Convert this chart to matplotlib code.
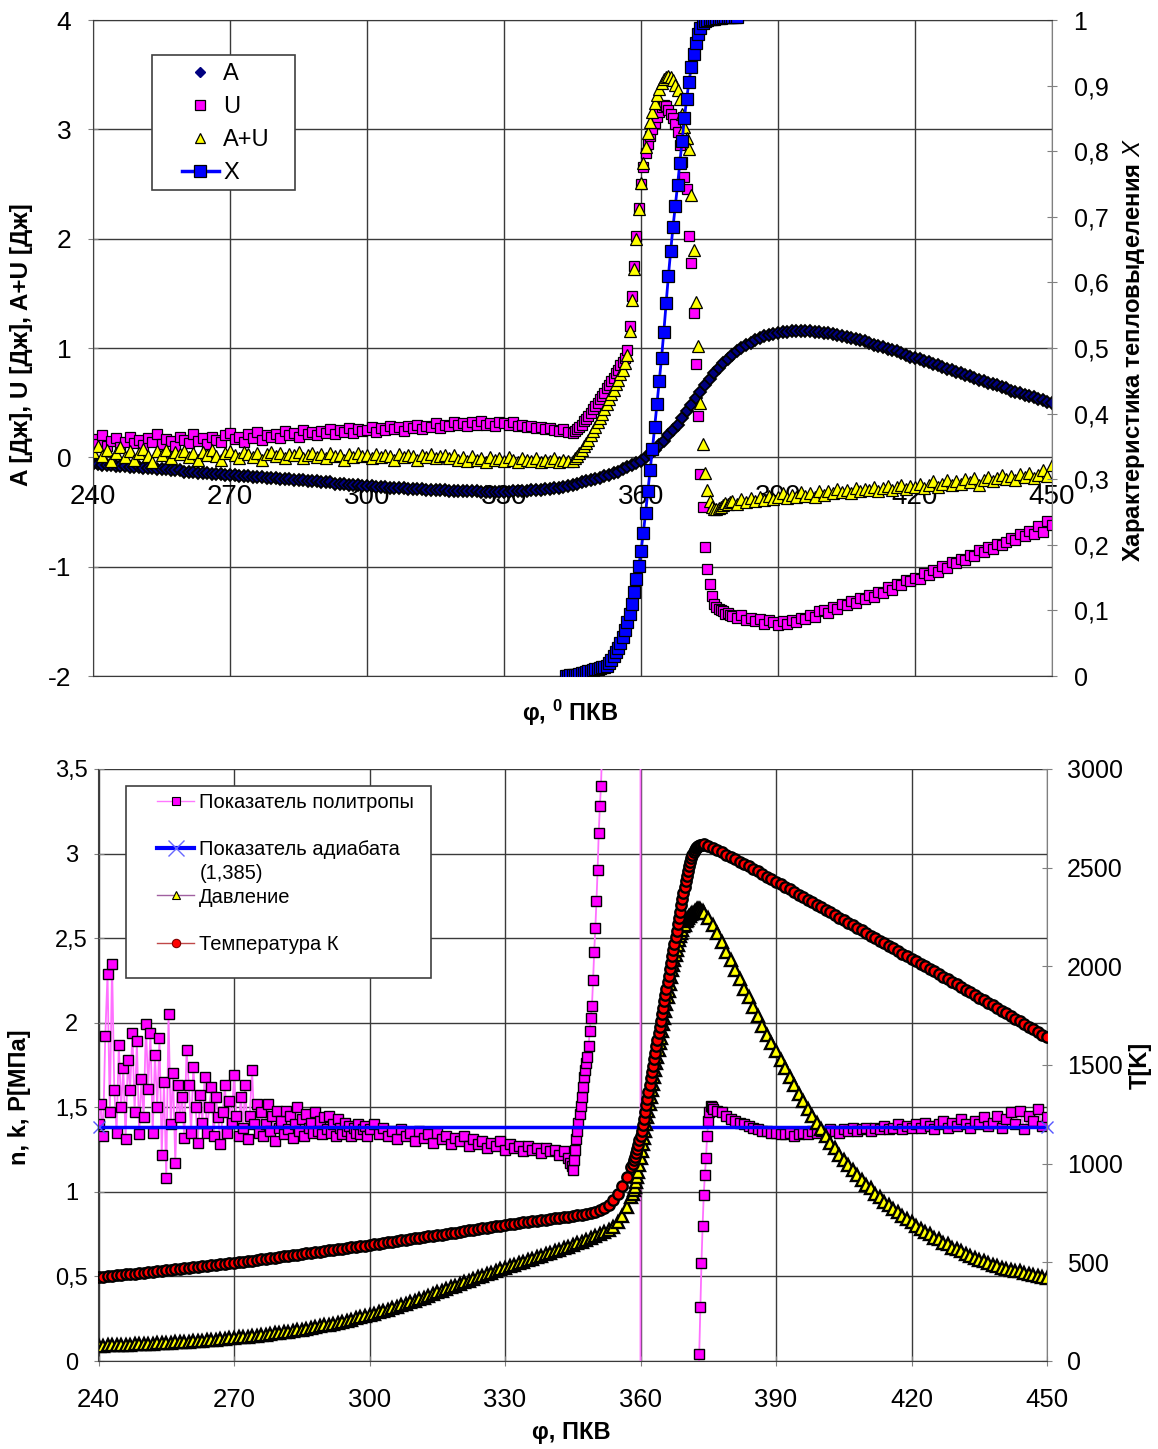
import numpy as np
import matplotlib
matplotlib.use("Agg")
import matplotlib.pyplot as plt
from matplotlib.lines import Line2D
from matplotlib.patches import Rectangle
from matplotlib.ticker import FuncFormatter

plt.rcParams['font.family'] = ['Liberation Sans', 'DejaVu Sans']
plt.rcParams['axes.unicode_minus'] = False
plt.rcParams['mathtext.fontset'] = 'custom'
plt.rcParams['mathtext.rm'] = 'Liberation Sans'
plt.rcParams['mathtext.it'] = 'Liberation Sans:italic'
plt.rcParams['mathtext.bf'] = 'Liberation Sans:bold'

# ------------------------------------------------------------------
# Upper panel: work A, internal energy U, their sum, heat release X
# ------------------------------------------------------------------
phi_a = np.arange(240, 451, 1.0)
work_a = [
    -0.06, -0.06, -0.07, -0.07, -0.07, -0.08, -0.08, -0.08, -0.09, -0.09,
    -0.09, -0.10, -0.10, -0.10, -0.11, -0.11, -0.11, -0.12, -0.12, -0.12,
    -0.13, -0.13, -0.13, -0.14, -0.14, -0.14, -0.15, -0.15, -0.15, -0.16,
    -0.16, -0.16, -0.17, -0.17, -0.17, -0.18, -0.18, -0.18, -0.19, -0.19,
    -0.19, -0.20, -0.20, -0.20, -0.21, -0.21, -0.21, -0.22, -0.22, -0.22,
    -0.23, -0.23, -0.23, -0.24, -0.24, -0.24, -0.25, -0.25, -0.25, -0.26,
    -0.26, -0.26, -0.27, -0.27, -0.27, -0.28, -0.28, -0.28, -0.28, -0.29,
    -0.29, -0.29, -0.29, -0.30, -0.30, -0.30, -0.30, -0.30, -0.31, -0.31,
    -0.31, -0.31, -0.31, -0.31, -0.31, -0.32, -0.32, -0.32, -0.32, -0.32,
    -0.32, -0.32, -0.31, -0.31, -0.31, -0.31, -0.30, -0.30, -0.30, -0.29,
    -0.29, -0.28, -0.28, -0.27, -0.26, -0.25, -0.24, -0.23, -0.22, -0.21,
    -0.20, -0.19, -0.17, -0.16, -0.14, -0.13, -0.11, -0.09, -0.07, -0.05,
    -0.03, 0.00, 0.03, 0.07, 0.11, 0.15, 0.20, 0.25, 0.30, 0.36,
    0.42, 0.48, 0.54, 0.60, 0.66, 0.72, 0.77, 0.82, 0.86, 0.90,
    0.94, 0.97, 1.00, 1.03, 1.05, 1.07, 1.09, 1.11, 1.12, 1.13,
    1.14, 1.15, 1.15, 1.16, 1.16, 1.16, 1.16, 1.16, 1.15, 1.15,
    1.14, 1.14, 1.13, 1.12, 1.11, 1.10, 1.09, 1.08, 1.07, 1.06,
    1.05, 1.03, 1.02, 1.01, 0.99, 0.98, 0.97, 0.95, 0.94, 0.92,
    0.91, 0.90, 0.88, 0.87, 0.85, 0.84, 0.83, 0.81, 0.80, 0.78,
    0.77, 0.75, 0.74, 0.73, 0.71, 0.70, 0.68, 0.67, 0.66, 0.64,
    0.63, 0.61, 0.60, 0.59, 0.57, 0.56, 0.55, 0.53, 0.52, 0.51,
    0.50,
]

phi_u = np.concatenate([np.arange(240, 345, 1.0),
                        np.arange(345, 380, 0.5),
                        np.arange(380, 451, 1.0)])
energy_u = [
    # 240 .. 344
    0.17, 0.12, 0.20, 0.10, 0.15, 0.18, 0.09, 0.14, 0.19, 0.13,
    0.16, 0.11, 0.18, 0.14, 0.21, 0.12, 0.17, 0.15, 0.10, 0.19,
    0.16, 0.13, 0.21, 0.15, 0.18, 0.12, 0.19, 0.16, 0.14, 0.20,
    0.22, 0.17, 0.19, 0.14, 0.21, 0.18, 0.23, 0.16, 0.20, 0.19,
    0.21, 0.18, 0.24, 0.20, 0.22, 0.19, 0.25, 0.21, 0.23, 0.20,
    0.24, 0.22, 0.26, 0.21, 0.25, 0.23, 0.27, 0.22, 0.26, 0.24,
    0.25, 0.28, 0.23, 0.27, 0.25, 0.29, 0.26, 0.28, 0.24, 0.29,
    0.27, 0.30, 0.26, 0.29, 0.28, 0.31, 0.27, 0.30, 0.29, 0.32,
    0.30, 0.31, 0.29, 0.32, 0.30, 0.33, 0.30, 0.31, 0.29, 0.32,
    0.31, 0.30, 0.32, 0.29, 0.30, 0.28, 0.29, 0.27, 0.28, 0.26,
    0.27, 0.25, 0.24, 0.26, 0.23,
    # 345 .. 379.5
    0.22, 0.24, 0.26, 0.28, 0.30, 0.33, 0.35, 0.38, 0.41, 0.44,
    0.47, 0.50, 0.53, 0.56, 0.59, 0.63, 0.66, 0.70, 0.73, 0.77,
    0.80, 0.84, 0.87, 0.91, 0.98, 1.20, 1.48, 1.75, 2.02, 2.28,
    2.50, 2.66, 2.78, 2.87, 2.94, 3.00, 3.06, 3.11, 3.16, 3.20,
    3.22, 3.21, 3.18, 3.14, 3.10, 3.05, 2.98, 2.86, 2.70, 2.56,
    2.45, 2.02, 1.78, 1.32, 0.85, 0.38, -0.15, -0.45, -0.82, -1.02,
    -1.16, -1.27, -1.34, -1.37, -1.39, -1.40, -1.41, -1.43, -1.42, -1.44,
    # 380 .. 450
    -1.45, -1.47, -1.44, -1.49, -1.47, -1.50, -1.48, -1.52, -1.49, -1.51,
    -1.53, -1.50, -1.52, -1.49, -1.51, -1.47, -1.48, -1.44, -1.46, -1.41,
    -1.40, -1.42, -1.37, -1.39, -1.34, -1.35, -1.31, -1.33, -1.29, -1.30,
    -1.26, -1.28, -1.23, -1.24, -1.19, -1.21, -1.16, -1.17, -1.12, -1.13,
    -1.10, -1.11, -1.06, -1.08, -1.03, -1.05, -0.99, -1.01, -0.96, -0.97,
    -0.93, -0.94, -0.89, -0.90, -0.85, -0.87, -0.82, -0.84, -0.79, -0.80,
    -0.77, -0.74, -0.76, -0.70, -0.72, -0.67, -0.70, -0.63, -0.68, -0.58,
    -0.62,
]
sum_au = [
    # 240 .. 344
    0.05, 0.10, 0.01, 0.07, -0.03, 0.04, 0.09, 0.00, 0.06, -0.02,
    0.04, 0.08, 0.01, -0.04, 0.06, 0.02, 0.07, -0.01, 0.05, 0.03,
    0.06, 0.00, 0.04, -0.02, 0.05, 0.02, 0.07, 0.01, -0.02, 0.04,
    0.06, 0.02, -0.01, 0.05, 0.03, 0.00, 0.04, -0.02, 0.03, 0.05,
    0.01, 0.04, -0.01, 0.03, 0.02, 0.05, -0.01, 0.02, 0.04, 0.00,
    0.03, -0.01, 0.04, 0.01, 0.02, -0.02, 0.03, 0.00, 0.04, 0.01,
    0.02, -0.01, 0.03, 0.00, 0.02, 0.01, -0.02, 0.03, 0.00, 0.02,
    0.01, -0.02, 0.02, 0.00, 0.03, -0.01, 0.01, 0.02, -0.01, 0.02,
    -0.02, 0.00, -0.03, 0.01, -0.02, -0.01, -0.04, 0.00, -0.02, -0.01,
    -0.03, 0.00, -0.02, -0.04, -0.01, -0.02, -0.03, -0.01, -0.04, -0.02,
    -0.03, -0.01, -0.04, -0.02, -0.03,
    # 345 .. 379.5
    -0.03, -0.01, 0.01, 0.04, 0.07, 0.10, 0.13, 0.16, 0.20, 0.24,
    0.28, 0.32, 0.36, 0.40, 0.44, 0.49, 0.53, 0.58, 0.62, 0.67,
    0.71, 0.76, 0.80, 0.86, 0.94, 1.16, 1.44, 1.72, 2.00, 2.27,
    2.51, 2.69, 2.84, 2.97, 3.07, 3.16, 3.24, 3.31, 3.37, 3.42,
    3.46, 3.48, 3.49, 3.48, 3.45, 3.41, 3.36, 3.28, 3.14, 3.02,
    2.92, 2.82, 2.40, 1.90, 1.42, 1.02, 0.50, 0.12, -0.14, -0.30,
    -0.40, -0.45, -0.47, -0.47, -0.46, -0.45, -0.44, -0.42, -0.43, -0.41,
    # 380 .. 450
    -0.40, -0.43, -0.38, -0.41, -0.37, -0.40, -0.36, -0.39, -0.35, -0.38,
    -0.36, -0.33, -0.37, -0.34, -0.36, -0.32, -0.35, -0.33, -0.36, -0.31,
    -0.34, -0.31, -0.33, -0.29, -0.32, -0.30, -0.33, -0.28, -0.31, -0.29,
    -0.30, -0.27, -0.31, -0.28, -0.26, -0.30, -0.27, -0.25, -0.29, -0.26,
    -0.27, -0.24, -0.28, -0.25, -0.22, -0.27, -0.24, -0.21, -0.25, -0.22,
    -0.24, -0.20, -0.23, -0.19, -0.25, -0.21, -0.18, -0.22, -0.19, -0.16,
    -0.20, -0.17, -0.21, -0.15, -0.18, -0.14, -0.19, -0.16, -0.12, -0.17,
    -0.07,
]

phi_x = np.arange(343.5, 381.01, 0.5)
heat_x = [
    0.000, 0.000, 0.001, 0.001, 0.002, 0.002, 0.003, 0.004, 0.005, 0.006,
    0.007, 0.008, 0.009, 0.010, 0.011, 0.012, 0.013, 0.014, 0.016, 0.020,
    0.025, 0.030, 0.036, 0.043, 0.051, 0.060, 0.070, 0.082, 0.095, 0.110,
    0.128, 0.148, 0.168, 0.190, 0.218, 0.248, 0.282, 0.314, 0.346, 0.380,
    0.415, 0.450, 0.485, 0.525, 0.568, 0.610, 0.648, 0.684, 0.716, 0.748,
    0.782, 0.816, 0.850, 0.880, 0.905, 0.928, 0.948, 0.965, 0.978, 0.988,
    0.995, 0.999, 1.000, 1.001, 1.002, 1.002, 1.003, 1.003, 1.003, 1.004,
    1.004, 1.004, 1.005, 1.005, 1.005, 1.005,
]

# ------------------------------------------------------------------
# Lower panel: polytropic index n, adiabatic index k, pressure, temperature
# ------------------------------------------------------------------
phi_n = np.concatenate([np.arange(240, 300, 0.5),
                        np.arange(300, 345, 1.0),
                        np.arange(344.5, 352.01, 0.25),
                        [353.0, 355.0, 358.0, 359.95, 360.05, 364.0, 368.0, 371.0, 372.5],
                        np.arange(372.75, 376.01, 0.25),
                        np.arange(377, 451, 1.0)])
poly_n = [
    # 240 .. 299.5
    1.40, 1.52, 1.33, 1.92, 2.29, 1.47, 2.35, 1.60, 1.35, 1.87,
    1.50, 1.73, 1.31, 1.78, 1.60, 1.94, 1.47, 1.89, 1.34, 1.67,
    1.44, 1.99, 1.61, 1.94, 1.35, 1.81, 1.50, 1.91, 1.22, 1.65,
    1.08, 2.05, 1.40, 1.70, 1.17, 1.63, 1.44, 1.56, 1.32, 1.84,
    1.63, 1.35, 1.74, 1.50, 1.29, 1.57, 1.41, 1.68, 1.35, 1.50,
    1.62, 1.33, 1.56, 1.44, 1.28, 1.47, 1.63, 1.35, 1.54, 1.41,
    1.69, 1.45, 1.33, 1.56, 1.38, 1.63, 1.31, 1.45, 1.72, 1.40,
    1.52, 1.35, 1.47, 1.33, 1.40, 1.52, 1.36, 1.45, 1.30, 1.48,
    1.38, 1.42, 1.34, 1.48, 1.37, 1.45, 1.32, 1.40, 1.50, 1.36,
    1.43, 1.33, 1.46, 1.38, 1.41, 1.35, 1.47, 1.36, 1.42, 1.34,
    1.44, 1.37, 1.45, 1.35, 1.40, 1.33, 1.43, 1.38, 1.34, 1.41,
    1.36, 1.39, 1.33, 1.38, 1.35, 1.40, 1.34, 1.37, 1.39, 1.33,
    # 300 .. 344
    1.37, 1.40, 1.34, 1.38, 1.33, 1.36, 1.31, 1.37, 1.33, 1.35,
    1.30, 1.36, 1.32, 1.34, 1.29, 1.35, 1.31, 1.33, 1.28, 1.32,
    1.30, 1.33, 1.27, 1.31, 1.28, 1.30, 1.26, 1.29, 1.27, 1.30,
    1.25, 1.28, 1.26, 1.27, 1.24, 1.27, 1.25, 1.26, 1.23, 1.26,
    1.24, 1.25, 1.22, 1.24, 1.20,
    # 344.5 .. 352
    1.17, 1.15, 1.13, 1.19, 1.25, 1.31, 1.36, 1.41, 1.46, 1.51,
    1.56, 1.62, 1.68, 1.72, 1.76, 1.80, 1.86, 1.95, 2.03, 2.10,
    2.25, 2.42, 2.56, 2.72, 2.90, 3.12, 3.28, 3.40, 3.62, 3.90,
    4.30,
    # through the singularity at TDC
    5.5, 9.0, 30.0, 600.0, -600.0, -12.0, -3.0, -1.0, -0.35,
    # 372.75 .. 376
    -0.12, 0.04, 0.32, 0.58, 0.80, 0.98, 1.10, 1.20, 1.33, 1.42,
    1.47, 1.51, 1.50, 1.49,
    # 377 .. 450
    1.48, 1.47, 1.45, 1.43, 1.42, 1.41, 1.40, 1.39, 1.38, 1.37,
    1.36, 1.36, 1.35, 1.35, 1.34, 1.34, 1.35, 1.33, 1.34, 1.35,
    1.34, 1.36, 1.35, 1.36, 1.35, 1.37, 1.36, 1.35, 1.37, 1.36,
    1.38, 1.36, 1.37, 1.38, 1.36, 1.38, 1.37, 1.39, 1.37, 1.38,
    1.40, 1.37, 1.39, 1.38, 1.40, 1.38, 1.41, 1.39, 1.37, 1.40,
    1.42, 1.38, 1.41, 1.39, 1.43, 1.40, 1.38, 1.42, 1.40, 1.44,
    1.39, 1.41, 1.45, 1.38, 1.43, 1.47, 1.40, 1.48, 1.37, 1.45,
    1.42, 1.49, 1.39, 1.44,
]

phi_k = [240, 450]
adiab_k = [1.385, 1.385]

phi_pt = np.concatenate([np.arange(240, 358, 1.0),
                         np.arange(358, 374, 0.25),
                         np.arange(374, 451, 1.0)])
press_p = [
    # 240 .. 357
    0.090, 0.091, 0.092, 0.093, 0.094, 0.095, 0.096, 0.097, 0.098, 0.099,
    0.100, 0.101, 0.103, 0.104, 0.105, 0.107, 0.108, 0.110, 0.111, 0.113,
    0.115, 0.117, 0.119, 0.121, 0.123, 0.125, 0.127, 0.129, 0.131, 0.134,
    0.136, 0.139, 0.141, 0.144, 0.147, 0.150, 0.153, 0.156, 0.159, 0.163,
    0.166, 0.170, 0.174, 0.178, 0.182, 0.186, 0.191, 0.195, 0.200, 0.205,
    0.210, 0.215, 0.221, 0.227, 0.233, 0.239, 0.245, 0.252, 0.259, 0.266,
    0.273, 0.280, 0.288, 0.296, 0.304, 0.312, 0.320, 0.329, 0.338, 0.347,
    0.356, 0.365, 0.375, 0.385, 0.395, 0.405, 0.415, 0.425, 0.435, 0.445,
    0.455, 0.465, 0.475, 0.485, 0.495, 0.505, 0.514, 0.523, 0.532, 0.541,
    0.550, 0.559, 0.568, 0.577, 0.586, 0.595, 0.604, 0.613, 0.622, 0.631,
    0.640, 0.649, 0.658, 0.667, 0.676, 0.685, 0.695, 0.705, 0.716, 0.727,
    0.738, 0.750, 0.763, 0.777, 0.793, 0.820, 0.860, 0.910,
    # 358 .. 373.75
    0.97, 0.99, 1.01, 1.03, 1.06, 1.09, 1.12, 1.16,
    1.20, 1.24, 1.28, 1.32, 1.36, 1.40, 1.44, 1.48,
    1.52, 1.56, 1.60, 1.64, 1.68, 1.72, 1.76, 1.80,
    1.84, 1.88, 1.91, 1.95, 1.99, 2.03, 2.07, 2.11,
    2.15, 2.19, 2.23, 2.27, 2.31, 2.34, 2.37, 2.40,
    2.43, 2.46, 2.49, 2.51, 2.53, 2.55, 2.57, 2.58,
    2.60, 2.61, 2.62, 2.63, 2.63, 2.64, 2.65, 2.65,
    2.66, 2.66, 2.67, 2.67, 2.67, 2.67, 2.66, 2.66,
    # 374 .. 450
    2.65, 2.62, 2.58, 2.53, 2.48, 2.42, 2.37, 2.31, 2.26, 2.20,
    2.15, 2.09, 2.04, 1.98, 1.93, 1.88, 1.83, 1.78, 1.73, 1.68,
    1.63, 1.58, 1.54, 1.49, 1.45, 1.41, 1.37,
    1.33, 1.29, 1.26, 1.22, 1.19, 1.16, 1.13, 1.10, 1.07, 1.04,
    1.02, 0.99, 0.97, 0.94, 0.92, 0.90, 0.88, 0.86, 0.84, 0.82,
    0.80, 0.78, 0.76, 0.75, 0.73, 0.72, 0.70, 0.69, 0.67, 0.66,
    0.65, 0.63, 0.62, 0.61, 0.60, 0.59, 0.58, 0.57, 0.56, 0.55,
    0.545, 0.54, 0.535, 0.53, 0.52, 0.515, 0.51, 0.50, 0.495, 0.49,
]
temp_t = [
    # 240 .. 357
    425, 427, 429, 432, 434, 436, 439, 441, 443, 446,
    448, 450, 453, 455, 458, 460, 462, 465, 467, 470,
    472, 475, 477, 480, 482, 485, 487, 490, 492, 495,
    497, 500, 503, 506, 509, 512, 515, 518, 521, 524,
    527, 530, 533, 536, 539, 542, 545, 548, 551, 554,
    557, 560, 564, 567, 570, 573, 576, 579, 582, 585,
    588, 591, 595, 598, 601, 605, 608, 611, 615, 618,
    621, 625, 628, 631, 635, 638, 641, 645, 648, 651,
    655, 658, 662, 665, 669, 672, 676, 679, 683, 686,
    690, 693, 696, 699, 702, 705, 708, 711, 714, 717,
    720, 723, 726, 729, 732, 736, 739, 742, 746, 750,
    756, 765, 776, 792, 815, 845, 885, 930,
    # 358 .. 373.75
    985, 1000, 1018, 1036, 1055, 1075, 1096, 1118,
    1140, 1168, 1198, 1228, 1260, 1295, 1330, 1365,
    1400, 1432, 1465, 1497, 1530, 1562, 1595, 1627,
    1660, 1692, 1725, 1757, 1790, 1822, 1855, 1887,
    1920, 1952, 1985, 2017, 2050, 2082, 2115, 2147,
    2180, 2212, 2245, 2277, 2310, 2340, 2372, 2402,
    2430, 2457, 2482, 2507, 2530, 2548, 2564, 2578,
    2590, 2598, 2605, 2609, 2612, 2614, 2616, 2617,
    # 374 .. 450
    2618, 2610, 2600, 2589, 2577, 2566, 2554, 2542, 2530, 2518,
    2506, 2494, 2481, 2468, 2455, 2442, 2429, 2416, 2403, 2390,
    2377, 2364, 2351, 2338, 2325, 2312, 2299,
    2286, 2273, 2260, 2247, 2234, 2221, 2208, 2195, 2182, 2169,
    2156, 2143, 2130, 2117, 2104, 2091, 2078, 2065, 2052, 2039,
    2026, 2013, 2000, 1987, 1974, 1961, 1948, 1935, 1922, 1909,
    1896, 1882, 1869, 1856, 1842, 1829, 1816, 1802, 1789, 1776,
    1762, 1749, 1735, 1721, 1708, 1694, 1681, 1667, 1654, 1640,
]

x_ticks = [240, 270, 300, 330, 360, 390, 420, 450]

# ------------------------------------------------------------------
W, H = 1158, 1449
fig = plt.figure(figsize=(W / 100, H / 100), dpi=100)


def rect(l, t, r, b):
    return [l / W, 1 - b / H, (r - l) / W, (b - t) / H]


GRID = '#3a3a3a'
SPINE = '#808080'
comma = FuncFormatter(lambda v, pos: f"{v:g}".replace('.', ','))

# ======================= upper panel =======================
ax1 = fig.add_axes(rect(93, 20, 1052, 676))
ax1.set_xlim(240, 450)
ax1.set_ylim(-2, 4)
ax1.set_xticks(x_ticks)
ax1.set_yticks(np.arange(-2, 5, 1))
ax1.grid(True, color=GRID, lw=1)
ax1.set_axisbelow(True)
ax1.spines['bottom'].set_position(('data', 0))
for s in ax1.spines.values():
    s.set_visible(False)
ax1.tick_params(axis='x', length=0, pad=19, labelsize=20)
ax1.tick_params(axis='y', direction='inout', length=7, color=SPINE,
                pad=12, labelsize=19)

lA, = ax1.plot(phi_a, work_a, ls='none', marker='D', ms=6.5,
               mfc='#000080', mec='black', mew=1.3, zorder=3)
lU, = ax1.plot(phi_u, energy_u, ls='none', marker='s', ms=7,
               mfc='#FF00FF', mec='black', mew=0.9, zorder=3)
lAU, = ax1.plot(phi_u, sum_au, ls='none', marker='^', ms=8,
                mfc='#FFFF00', mec='black', mew=0.9, zorder=3)

ax1r = ax1.twinx()
ax1r.set_ylim(0, 1)
ax1r.set_yticks(np.arange(0, 1.01, 0.1))
ax1r.yaxis.set_major_formatter(comma)
ax1r.tick_params(axis='y', direction='inout', length=7, color=SPINE,
                 pad=12, labelsize=18)
for side in ('top', 'bottom'):
    ax1r.spines[side].set_color(GRID)
ax1r.spines['left'].set_color('#404040')
ax1r.spines['right'].set_color(SPINE)

lX, = ax1r.plot(phi_x, heat_x, color='#0000FF', lw=2, marker='s', ms=8,
                mfc='#0000FF', mec='black', mew=0.9, zorder=3)

ax1r.add_patch(Rectangle((152 / W, 1 - 190 / H), 143 / W, 135 / H,
                         transform=fig.transFigure, facecolor='white',
                         edgecolor='#404040', lw=1.2, zorder=4, clip_on=False))
h_a = Line2D([], [], ls='none', marker='D', ms=5.5, mfc='#000080',
             mec='#000080')
h_u = Line2D([], [], ls='none', marker='s', ms=6.5, mfc='#FF00FF',
             mec='black', mew=0.9)
h_au = Line2D([], [], ls='none', marker='^', ms=7, mfc='#FFFF00',
              mec='black', mew=0.9)
h_x = Line2D([], [], color='#0000FF', lw=2.5, marker='s', ms=8,
             mfc='#0000FF', mec='black', mew=0.9)
leg1 = ax1r.legend([h_a, h_u, h_au, h_x], ['A', 'U', 'A+U', 'X'],
                   loc='upper left', bbox_to_anchor=(182 / W, 1 - 63 / H),
                   bbox_transform=fig.transFigure, frameon=False,
                   fontsize=17, handlelength=1.55, handletextpad=0.2,
                   labelspacing=0.47, borderpad=0, borderaxespad=0)
leg1.set_zorder(5)

fig.text(22 / W, 1 - 345 / H, 'A [Дж], U [Дж], A+U [Дж]', rotation=90,
         ha='center', va='center', fontsize=17.5, fontweight='bold')
fig.text(1134 / W, 1 - 350 / H, 'Характеристика тепловыделения $X$',
         rotation=90, ha='center', va='center', fontsize=17.2,
         fontweight='bold')
fig.text(570 / W, 1 - 713 / H, r'φ, $^{\mathbf{0}}$ ПКВ', ha='center',
         va='center', fontsize=17, fontweight='bold')

# ======================= lower panel =======================
ax2 = fig.add_axes(rect(98.5, 769, 1047, 1361))
ax2.set_xlim(240, 450)
ax2.set_ylim(0, 3.5)
ax2.set_xticks(x_ticks)
ax2.set_yticks(np.arange(0, 3.51, 0.5))
ax2.yaxis.set_major_formatter(comma)
ax2.grid(True, color=GRID, lw=1)
ax2.set_axisbelow(True)
for s in ax2.spines.values():
    s.set_visible(False)
ax2.tick_params(axis='x', direction='inout', length=7, color=SPINE,
                pad=16, labelsize=18.5)
ax2.tick_params(axis='y', direction='inout', length=7, color=SPINE,
                pad=16, labelsize=17)
plt.setp(ax2.get_yticklabels(), ha='center')

ln, = ax2.plot(phi_n, poly_n, color='#FF70FF', lw=1.3, marker='s', ms=7,
               mfc='#FF00FF', mec='black', mew=1.0, zorder=3)
lk, = ax2.plot(phi_k, adiab_k, color='#0000FF', lw=2.5, marker='x', ms=9,
               mec='#5555FF', mew=1, zorder=3.1, clip_on=False)
lp, = ax2.plot(phi_pt, press_p, color='#993399', lw=0.8, marker='^', ms=8,
               mfc='#FFFF00', mec='black', mew=1.7, zorder=3.2)

ax2r = ax2.twinx()
ax2r.set_ylim(0, 3000)
ax2r.set_yticks(np.arange(0, 3001, 500))
ax2r.tick_params(axis='y', direction='inout', length=7, color=SPINE,
                 pad=11, labelsize=18)
ax2r.spines['top'].set_visible(False)
ax2r.spines['bottom'].set_color(GRID)
ax2r.spines['left'].set_color('#404040')
ax2r.spines['right'].set_color(SPINE)

lt, = ax2r.plot(phi_pt, temp_t, color='#993333', lw=0.8, marker='o', ms=7.5,
                mfc='#FF0000', mec='black', mew=1.7, zorder=3)

blank = Line2D([], [], ls='none')
h_n = Line2D([], [], color='#FF77FF', lw=1, marker='s', ms=6,
             mfc='#FF00FF', mec='black', mew=0.8)
h_k = Line2D([], [], color='#0000FF', lw=3, marker='x', ms=11,
             mec='#6666FF', mew=1)
h_p = Line2D([], [], color='#A060A0', lw=1, marker='^', ms=6,
             mfc='#FFFF00', mec='black', mew=0.8)
h_t = Line2D([], [], color='#C04848', lw=1, marker='o', ms=6,
             mfc='#FF0000', mec='#800000', mew=0.8)

ax2r.add_patch(Rectangle((126 / W, 1 - 978 / H), 305 / W, 192 / H,
                         transform=fig.transFigure, facecolor='white',
                         edgecolor='#404040', lw=1.2, zorder=4, clip_on=False))
leg2 = ax2r.legend([h_n, blank, h_k, blank, h_p, blank, h_t],
                   ['Показатель политропы', ' ', 'Показатель адиабата',
                    '(1,385)', 'Давление', ' ', 'Температура К'],
                   loc='upper left', bbox_to_anchor=(157 / W, 1 - 793 / H),
                   bbox_transform=fig.transFigure, frameon=False,
                   fontsize=14.5, handlelength=1.85, handletextpad=0.25,
                   labelspacing=0.23, borderpad=0, borderaxespad=0)
leg2.set_zorder(5)

fig.text(20 / W, 1 - 1097 / H, 'n, k, P[МПа]', rotation=90, ha='center',
         va='center', fontsize=17, fontweight='bold')
fig.text(1140 / W, 1 - 1065 / H, 'T[K]', rotation=90, ha='center',
         va='center', fontsize=17, fontweight='bold')
fig.text(571 / W, 1 - 1432 / H, 'φ, ПКВ', ha='center', va='center',
         fontsize=17, fontweight='bold')

fig.savefig('out.png', dpi=100, facecolor='white')
